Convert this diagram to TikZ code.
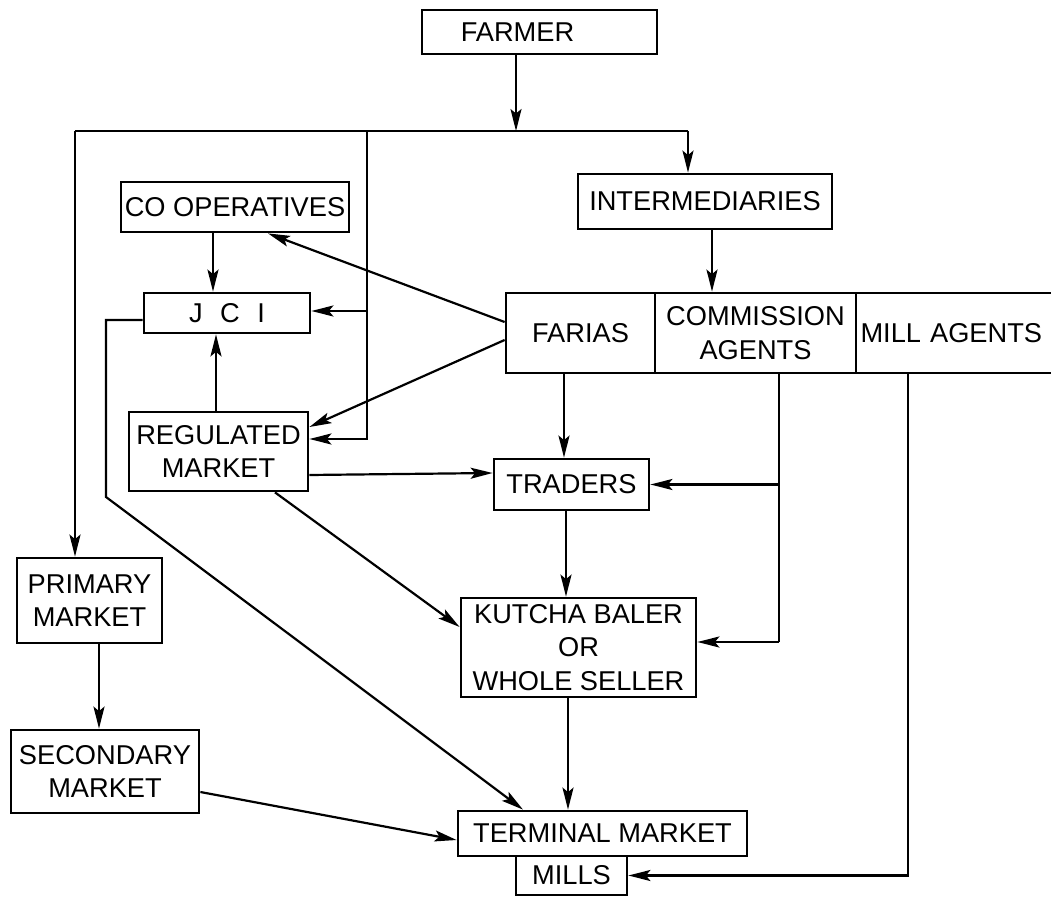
\documentclass[tikz,border=0pt]{standalone}
\usepackage{fontspec}
\setmainfont{Liberation Sans}
\usetikzlibrary{arrows.meta,calc}
\tikzset{
  box/.style={draw, line width=1.6pt, inner sep=0pt, align=center,
    font=\fontsize{15.5}{19}\selectfont},
  link/.style={line width=1.25pt},
  flow/.style={line width=1.25pt, -{Stealth[length=4.4mm,width=2.2mm,inset=0.9mm]}},
}
\begin{document}
\begin{tikzpicture}[x=0.02cm,y=-0.02cm]
			\useasboundingbox (0,0) rectangle (1051,898);
			% Split rails
			\def\splity{131}
			\def\railx{367}
			\def\commx{779}
			\def\millx{908}

			% Top
			\node[box, minimum width=4.7cm, minimum height=0.88cm] (farmer) at (539.5,32) {FARMER\hspace*{0.88cm}};
			\node[box, minimum width=5.08cm, minimum height=1.1cm] (intermed) at (705,201.5) {INTERMEDIARIES};
			\node[box, minimum width=4.56cm, minimum height=1cm] (coop) at (235,207) {CO OPERATIVES};
			\node[box, minimum width=3.32cm, minimum height=0.8cm] (jci) at (227,313) {J\hspace{10pt}C\hspace{10pt}I};

			% Intermediaries row
			\node[box, minimum width=2.98cm, minimum height=1.6cm] (farias) at (580.5,333) {FARIAS};
			\node[box, minimum width=4.02cm, minimum height=1.6cm] (comm) at (755.5,333) {COMMISSION\\AGENTS};
			\node[box, minimum width=4.28cm, minimum height=1.6cm, text width=4.1cm, align=left] (millag) at (963,333) {MILL AGENTS};

			% Markets
			\node[box, minimum width=3.58cm, minimum height=1.58cm] (regulated) at (218.5,451.5) {REGULATED\\MARKET};
			\node[box, minimum width=3.1cm, minimum height=1.02cm] (traders) at (571.5,484.5) {TRADERS};
			\node[box, minimum width=2.9cm, minimum height=1.7cm] (primary) at (89.5,600.5) {PRIMARY\\MARKET};
			\node[box, minimum width=4.7cm, minimum height=1.98cm] (kutcha) at (578.5,647.5) {KUTCHA BALER\\OR\\WHOLE SELLER};
			\node[box, minimum width=3.76cm, minimum height=1.66cm] (secondary) at (105,771.5) {SECONDARY\\MARKET};
			\node[box, minimum width=5.78cm, minimum height=0.9cm] (terminal) at (602.5,833.5) {TERMINAL MARKET};
			\node[box, minimum width=2.22cm, minimum height=0.78cm] (mills) at (571.5,875.5) {MILLS};

			% Farmer split
			\coordinate (split) at (516,\splity);
			\coordinate (railL) at (75,\splity);
			\coordinate (railR) at (688,\splity);
			\coordinate (railM) at (\railx,\splity);
			\draw[flow] (farmer.south -| split) -- (split);
			\draw[link] (railL) -- (railR);
			\draw[flow] (railL) -- (railL |- primary.north);
			\draw[flow] (railR) -- (railR |- intermed.north);
			\draw[flow] (railM) -- (\railx,439) -- (regulated.east |- 0,439);
			\draw[flow] (\railx,311) -- (jci.east |- 0,311);

			% Cooperatives and JCI
			\draw[flow] (213,0 |- coop.south) -- (213,0 |- jci.north);
			\draw[flow] (216,0 |- regulated.north) -- (216,0 |- jci.south);
			\draw[flow] (farias.west |- 0,322) -- (268,0 |- coop.south);
			\draw[flow] (farias.west |- 0,340) -- (regulated.east |- 0,427);
			\draw[flow] ($(jci.west)+(0,7)$) -- (106,320) -- (106,497) -- (523,0 |- terminal.north);

			% Intermediaries
			\draw[flow] (712,0 |- intermed.south) -- (712,0 |- comm.north);
			\draw[flow] (564,0 |- farias.south) -- (564,0 |- traders.north);
			\draw[link] (\commx,0 |- comm.south) -- (\commx,642);
			\draw[flow] (\commx,642) -- (kutcha.east |- 0,642);
			\draw[flow] (\commx,0 |- traders.east) -- (traders.east);
			\draw[flow] (\millx,0 |- millag.south) -- (\millx,0 |- mills.east) -- (mills.east);

			% Markets
			\draw[flow] (regulated.east |- 0,475) -- (traders.west |- 0,473);
			\draw[flow] (275,0 |- regulated.south) -- (kutcha.west |- 0,627);
			\draw[flow] (566,0 |- traders.south) -- (566,0 |- kutcha.north);
			\draw[flow] (568,0 |- kutcha.south) -- (568,0 |- terminal.north);
			\draw[flow] (99,0 |- primary.south) -- (99,0 |- secondary.north);
			\draw[flow] (secondary.east |- 0,792) -- (terminal.west |- 0,840);
\end{tikzpicture}
\end{document}
